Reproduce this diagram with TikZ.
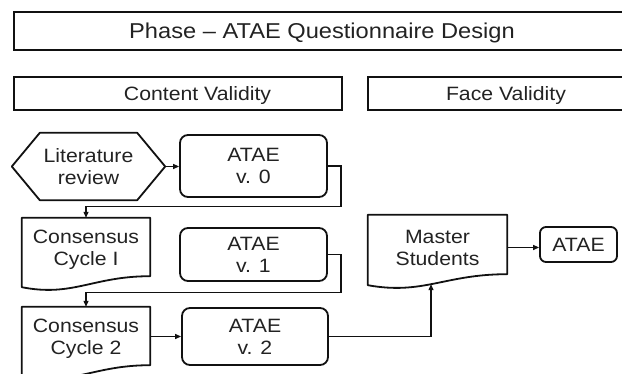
\documentclass[tikz,border=0pt]{standalone}
\usepackage{fontspec}
\setmainfont{Liberation Sans}[FakeStretch=1.1]
\usetikzlibrary{arrows.meta,calc}
\definecolor{txt}{HTML}{222222}
\definecolor{lin}{HTML}{111111}
\newcommand{\mydocshape}[2]{%
  \draw[shp] ([yshift=-5pt]#1.south west) -- (#1.north west) -- (#1.north east) -- ([yshift=6pt]#1.south east)
    .. controls ($(#1.south east)+(-0.45*#2,-6)$) and ($(#1.south west)+(0.4*#2,15)$) .. ([yshift=-5pt]#1.south west) -- cycle;}
\begin{document}
\begin{tikzpicture}[x=1pt,y=-1pt,
  every node/.style={font=\fontsize{19.3}{22}\selectfont, text=txt, align=center, inner sep=0pt},
  hdr/.style={draw=lin, line width=1.6pt},
  rbox/.style={draw=lin, line width=1.8pt, rounded corners=8pt},
  shp/.style={draw=lin, line width=1.8pt, line join=round},
  conn/.style={draw=lin, line width=1.2pt},
  arr/.style={conn, -{Triangle[length=6pt,width=5pt]}},
]
\useasboundingbox (0,0) rectangle (622,374);
% headers
\node[hdr, minimum width=626pt, minimum height=38pt] (titlebox) at (327,31) {};
\node[font=\fontsize{21.5}{24}\selectfont, anchor=base] (title) at (322,38.7) {Phase – ATAE Questionnaire Design};
\node[hdr, minimum width=328pt, minimum height=33pt] (cvbox) at (178,93.5) {};
\node[anchor=base] (cv) at (197.5,100.5) {Content Validity};
\node[hdr, minimum width=272pt, minimum height=33pt] (fvbox) at (504,93.5) {};
\node[anchor=base] (fv) at (506,100.5) {Face Validity};
% literature review hexagon
\node[minimum width=153pt, minimum height=67pt] (lit) at (88.5,166.5) {Literature\\review};
\draw[shp] (lit.west) -- ([xshift=28pt]lit.north west) -- ([xshift=-28pt]lit.north east) -- (lit.east)
  -- ([xshift=-28pt]lit.south east) -- ([xshift=28pt]lit.south west) -- cycle;
% ATAE versions
\node[rbox, minimum width=147pt, minimum height=62pt] (v0) at (253.5,166) {ATAE\\v. 0};
\node[rbox, minimum width=147pt, minimum height=53pt] (v1) at (253.5,254.5) {ATAE\\v. 1};
\node[rbox, minimum width=146pt, minimum height=57pt] (v2) at (255,336.5) {ATAE\\v. 2};
\node[rbox, rounded corners=6pt, minimum width=77pt, minimum height=35pt] (fin) at (578.5,244.5) {ATAE};
% document shapes
\node[minimum width=128pt, minimum height=64pt] (cc1) at (86,250) {Consensus\\Cycle I};
\mydocshape{cc1}{128}
\node[minimum width=128pt, minimum height=64pt] (cc2) at (86,339) {Consensus\\Cycle 2};
\mydocshape{cc2}{128}
\node[minimum width=139pt, minimum height=65pt] (ms) at (437.5,247.5) {Master\\Students};
\mydocshape{ms}{139}
% connectors
\draw[arr] (lit.east) -- (lit.east -| v0.west);
\draw[arr] (v0.east) -- ++(13,0) |- ([yshift=11pt]cc1.north) -- (cc1.north);
\draw[arr] (v1.east) -- ++(13,0) |- ([yshift=14pt]cc2.north) -- (cc2.north);
\draw[arr] (cc2.east |- v2.west) -- (v2.west);
\coordinate (msin) at ([xshift=-6.5pt,yshift=-4pt]ms.south);
\draw[arr] (v2.east) -| (msin);
\draw[arr] (ms.east) -- (ms.east -| fin.west);
\end{tikzpicture}
\end{document}
